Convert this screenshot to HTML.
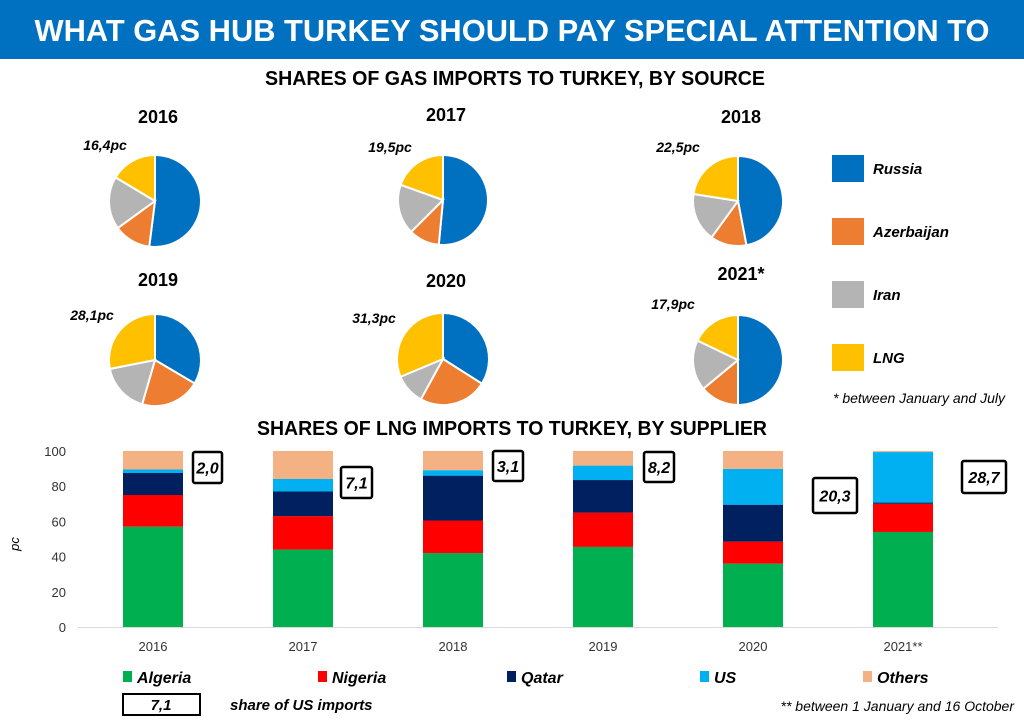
<!DOCTYPE html>
<html><head><meta charset="utf-8"><style>
body{margin:0;background:#fff;}
svg{display:block;font-family:"Liberation Sans",sans-serif;}
</style></head><body>
<svg id="s" width="1024" height="722" viewBox="0 0 1024 722">
<rect x="0" y="0" width="1024" height="59" fill="#0070c0"/>
<text x="512" y="41" text-anchor="middle" font-size="31" font-weight="bold" fill="#fff" textLength="955" lengthAdjust="spacingAndGlyphs">WHAT GAS HUB TURKEY SHOULD PAY SPECIAL ATTENTION TO</text>
<text x="515" y="85" text-anchor="middle" font-size="20" font-weight="bold" textLength="500" lengthAdjust="spacingAndGlyphs">SHARES OF GAS IMPORTS TO TURKEY, BY SOURCE</text>
<text x="512" y="435" text-anchor="middle" font-size="20" font-weight="bold" textLength="510" lengthAdjust="spacingAndGlyphs">SHARES OF LNG IMPORTS TO TURKEY, BY SUPPLIER</text>
<g id="pies"></g>
<g id="pielegend"></g>
<text x="1005" y="403" text-anchor="end" font-size="14" font-style="italic">* between January and July</text>
<g id="bars"></g>
</svg>
<script>
const NS='http://www.w3.org/2000/svg';
const svg=document.getElementById('s');
function mk(tag,attrs,parent,txt){const e=document.createElementNS(NS,tag);for(const k in attrs)e.setAttribute(k,attrs[k]);if(txt!==undefined)e.textContent=txt;(parent||svg).appendChild(e);return e;}

// ---- pie data ----
const pieYears=['2016','2017','2018','2019','2020','2021*'];
const pieSources=['Russia','Azerbaijan','Iran','LNG'];
const russia=[52,51.5,47,33.5,34,50];
const azerbaijan=[13,11,13,21,24,14];
const iran=[18.6,18,17.5,17.4,10.7,18.1];
const lng=[16.4,19.5,22.5,28.1,31.3,17.9];
const lngLabels=['16,4pc','19,5pc','22,5pc','28,1pc','31,3pc','17,9pc'];
const pieColors=['#0070c0','#ed7d31','#b4b4b4','#ffc000'];
const pieLayout=[[155,201,46,116,105,150],[443,200,45,114,390,152],[738,201,45,116,678,152],[155,360,46,279,92,320],[443,359,46,280,374,323],[738,360,45,273,673,309]];

const pg=document.getElementById('pies');
pieYears.forEach((y,i)=>{
  const [cx,cy,r,ty,lx,ly]=pieLayout[i];
  const vals=[russia[i],azerbaijan[i],iran[i],lng[i]];
  const tot=vals.reduce((a,b)=>a+b,0);
  const t=mk('text',{x:cx+3,y:ty+7,'text-anchor':'middle','font-size':18,'font-weight':'bold'},pg,y);
  
  
  let a=0;
  vals.forEach((v,j)=>{
    const a0=a/tot*2*Math.PI, a1=(a+v)/tot*2*Math.PI; a+=v;
    const x0=cx+r*Math.sin(a0),y0=cy-r*Math.cos(a0),x1=cx+r*Math.sin(a1),y1=cy-r*Math.cos(a1);
    const p=mk('path',{d:`M${cx},${cy}L${x0},${y0}A${r},${r} 0 ${a1-a0>Math.PI?1:0} 1 ${x1},${y1}Z`,fill:pieColors[j],stroke:'#fff','stroke-width':2},pg);
    
    
  });
  const l=mk('text',{x:lx,y:ly,'text-anchor':'middle','font-size':14,'font-weight':'bold','font-style':'italic'},pg,lngLabels[i]);
  
  
});
const lg=document.getElementById('pielegend');
pieSources.forEach((s,j)=>{
  const yy=155+j*63;
  const r=mk('rect',{x:832,y:yy,width:32,height:27,fill:pieColors[j]},lg);
  
  
  const t=mk('text',{x:873,y:yy+19,'font-size':15,'font-weight':'bold','font-style':'italic'},lg,s);
  
  
});

// ---- bar data ----
const barYears=['2016','2017','2018','2019','2020','2021**'];
const suppliers=['Algeria','Nigeria','Qatar','US','Others'];
const algeria=[57,44,42,45.5,36,54];
const nigeria=[18,19,18.5,19.5,12.5,16];
const qatar=[12.5,14,25.5,18.5,21,0.7];
const us=[2,7.1,3.1,8.2,20.3,28.7];
const others=[10.5,15.9,10.9,8.3,10.2,0.6];
const usLabels=['2,0','7,1','3,1','8,2','20,3','28,7'];
const yTicks=[0,20,40,60,80,100];
const barColors=['#00b050','#ff0000','#002060','#00b0f0','#f4b183'];
const boxLayout=[[193,452,29,31],[341,467,31,31],[493,451,30,30],[644,452,30,30],[813,478,44,35],[962,461,44,32]];

const bg=document.getElementById('bars');
const y0=627,yScale=v=>y0-v*1.76;
const xC=i=>153+i*150, bw=60;
yTicks.forEach(v=>{
  const t=mk('text',{x:66,y:yScale(v)+5,'text-anchor':'end','font-size':13,fill:'#333'},bg,v);
  
  
});
const yt=mk('text',{x:0,y:0,'font-size':13,'font-style':'italic',transform:'translate(19,544) rotate(-90)','text-anchor':'middle'},bg,'pc');


const ax=mk('line',{x1:78,y1:y0+0.5,x2:998,y2:y0+0.5,stroke:'#d9d9d9','stroke-width':1},bg);


const series=[algeria,nigeria,qatar,us,others];
barYears.forEach((yr,i)=>{
  let acc=0;
  series.forEach((s,j)=>{
    const v=s[i];
    const r=mk('rect',{x:xC(i)-bw/2,y:yScale(acc+v),width:bw,height:v*1.76,fill:barColors[j]},bg);
    
    
    acc+=v;
  });
  const t=mk('text',{x:xC(i),y:651,'text-anchor':'middle','font-size':13,fill:'#333'},bg,yr);
  
  
  const [bx,by,bw2,bh]=boxLayout[i];
  const b=mk('rect',{x:bx,y:by,width:bw2,height:bh,fill:'#fff',stroke:'#000','stroke-width':2.5,rx:2},bg);
  
  
  const bt=mk('text',{x:bx+bw2/2,y:by+bh/2+6,'text-anchor':'middle','font-size':16,'font-weight':'bold','font-style':'italic'},bg,usLabels[i]);
  
  
});
const legX=[123,318,507,700,863];
suppliers.forEach((s,j)=>{
  const r=mk('rect',{x:legX[j],y:671,width:9,height:11,fill:barColors[j]},bg);
  
  
  const t=mk('text',{x:legX[j]+14,y:683,'font-size':16,'font-weight':'bold','font-style':'italic'},bg,s);
  
  
});
const kb=mk('rect',{x:123,y:694,width:77,height:21,fill:'#fff',stroke:'#000','stroke-width':2},bg);


const kt=mk('text',{x:161,y:710,'text-anchor':'middle','font-size':15,'font-weight':'bold','font-style':'italic'},bg,'7,1');


const kl=mk('text',{x:230,y:710,'font-size':15,'font-weight':'bold','font-style':'italic'},bg,'share of US imports');


const fn=mk('text',{x:1014,y:711,'text-anchor':'end','font-size':14,'font-style':'italic'},bg,'** between 1 January and 16 October');


</script>
</body></html>
